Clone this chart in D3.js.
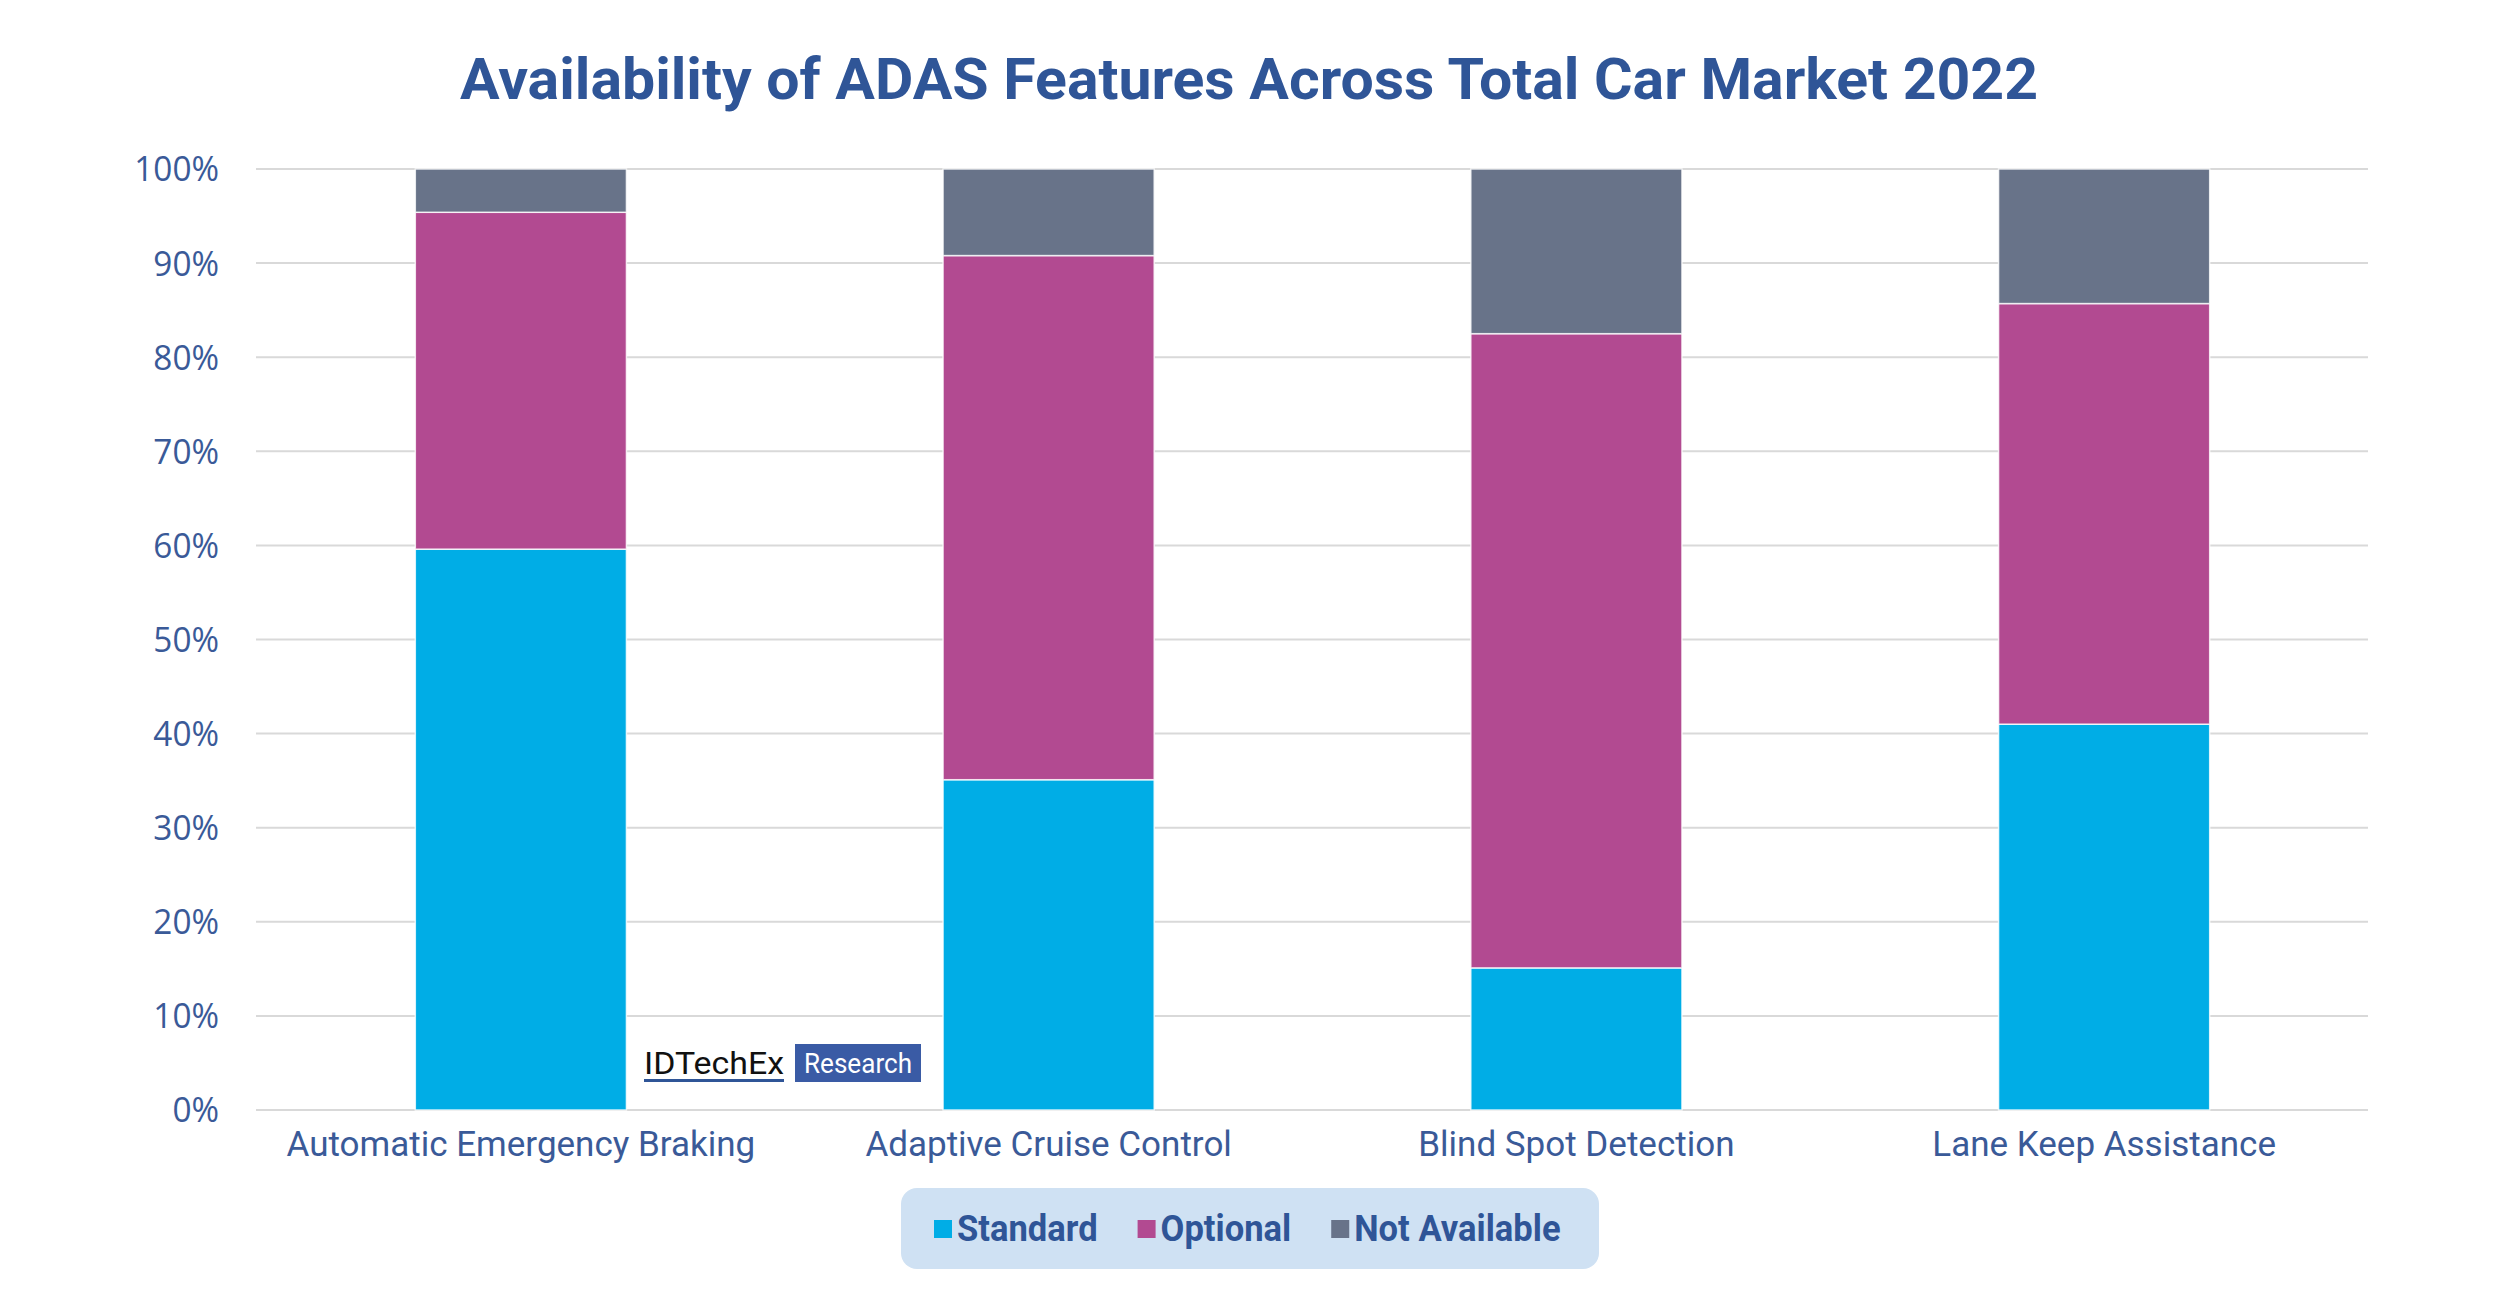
<!DOCTYPE html>
<html>
<head>
<meta charset="utf-8">
<script src="https://cdn.jsdelivr.net/npm/d3@7/dist/d3.min.js"></script>
<style>
  html, body { margin: 0; padding: 0; background: #ffffff; }
  svg { display: block; }
</style>
</head>
<body>
<svg id="chart" width="2500" height="1309"></svg>
<script>
// ---- Data ----
const categories = ["Automatic Emergency Braking", "Adaptive Cruise Control", "Blind Spot Detection", "Lane Keep Assistance"];
const seriesNames = ["Standard", "Optional", "Not Available"];
const standard     = [59.6, 35.1, 15.1, 41.0];
const optional     = [35.8, 55.7, 67.4, 44.7];
const notAvailable = [4.6, 9.2, 17.5, 14.3];
const yTicks = [0, 10, 20, 30, 40, 50, 60, 70, 80, 90, 100];
const titleText = "Availability of ADAS Features Across Total Car Market 2022";

// ---- Styles ----
const colors = { "Standard": "#00ADE6", "Optional": "#B24A91", "Not Available": "#687389" };
const textBlue = "#2F5597";
const tickBlue = "#3A5A98";

const svg = d3.select("#chart");
const W = 2500, H = 1309;
svg.append("rect").attr("width", W).attr("height", H).attr("fill", "#fff");

const plot = { left: 257, right: 2368, top: 169, bottom: 1110 };

const x = d3.scaleBand().domain(categories).range([plot.left, plot.right]).paddingInner(0.6).paddingOuter(0.3);
const y = d3.scaleLinear().domain([0, 100]).range([plot.bottom, plot.top]);

function condense(sel, factor) {
  sel.each(function() {
    const n = this.getComputedTextLength();
    d3.select(this).attr("textLength", n * factor).attr("lengthAdjust", "spacingAndGlyphs");
  });
}

// Title
svg.append("text")
  .attr("x", 1249).attr("y", 99)
  .attr("text-anchor", "middle")
  .attr("font-family", "Roboto, sans-serif")
  .attr("font-weight", 700)
  .attr("font-size", 57)
  .attr("fill", textBlue)
  .attr("textLength", 1578).attr("lengthAdjust", "spacingAndGlyphs")
  .text(titleText);

// Gridlines
svg.append("g")
  .selectAll("line").data(yTicks).join("line")
  .attr("x1", plot.left - 1).attr("x2", plot.right)
  .attr("y1", d => y(d)).attr("y2", d => y(d))
  .attr("stroke", "#d9d9d9").attr("stroke-width", 2);

// Y axis
const yAxis = d3.axisLeft(y).tickValues(yTicks).tickFormat(d => d + "%").tickSize(0).tickPadding(0);
const yg = svg.append("g").attr("transform", `translate(219,0)`).call(yAxis);
yg.select(".domain").remove();
yg.selectAll("text")
  .attr("font-family", "'Open Sans', 'Noto Sans', sans-serif")
  .attr("font-size", 34)
  .attr("fill", tickBlue)
  .attr("dy", "0.35em");
condense(yg.selectAll("text"), 0.98);

// Stack
const rows = categories.map((c, i) => ({ cat: c, "Standard": standard[i], "Optional": optional[i], "Not Available": notAvailable[i] }));
const stack = d3.stack().keys(seriesNames)(rows);

svg.append("g").selectAll("g").data(stack).join("g")
  .attr("fill", d => colors[d.key])
  .selectAll("rect").data(d => d).join("rect")
  .attr("x", d => x(d.data.cat))
  .attr("width", x.bandwidth())
  .attr("y", d => y(d[1]))
  .attr("height", d => y(d[0]) - y(d[1]))
  .attr("stroke", "#ffffff").attr("stroke-opacity", 0.8).attr("stroke-width", 1.5);

// X axis labels
const xAxis = d3.axisBottom(x).tickSize(0).tickPadding(0);
const xg = svg.append("g").attr("transform", `translate(0,${plot.bottom})`).call(xAxis);
xg.select(".domain").remove();
xg.selectAll("text")
  .attr("font-family", "Roboto, sans-serif")
  .attr("font-size", 35)
  .attr("fill", tickBlue)
  .attr("dy", null)
  .attr("y", 46);

// Watermark logo
const logo = svg.append("g");
logo.append("text")
  .attr("x", 644).attr("y", 1074)
  .attr("font-family", "Roboto, sans-serif")
  .attr("font-size", 32)
  .attr("fill", "#111")
  .attr("textLength", 140).attr("lengthAdjust", "spacingAndGlyphs")
  .text("IDTechEx");
logo.append("rect").attr("x", 644).attr("y", 1079).attr("width", 140).attr("height", 3).attr("fill", textBlue);
logo.append("rect").attr("x", 795).attr("y", 1044).attr("width", 126).attr("height", 38).attr("fill", "#3A5BA5");
logo.append("text")
  .attr("x", 858).attr("y", 1073)
  .attr("text-anchor", "middle")
  .attr("font-family", "Roboto, sans-serif")
  .attr("font-size", 28)
  .attr("fill", "#ffffff")
  .attr("textLength", 108).attr("lengthAdjust", "spacingAndGlyphs")
  .text("Research");

// Legend
const legend = svg.append("g");
legend.append("rect")
  .attr("x", 901).attr("y", 1188).attr("width", 698).attr("height", 81)
  .attr("rx", 16).attr("fill", "#CFE1F3");
let cx = 934;
seriesNames.forEach(name => {
  legend.append("rect").attr("x", cx).attr("y", 1220).attr("width", 18).attr("height", 18).attr("fill", colors[name]);
  const t = legend.append("text")
    .attr("x", cx + 23).attr("y", 1241)
    .attr("font-family", "Roboto, sans-serif")
    .attr("font-weight", 700)
    .attr("font-size", 36)
    .attr("fill", textBlue)
    .text(name);
  condense(t, 0.96);
  const w = +t.attr("textLength");
  cx += 23 + w + 40;
});
</script>
</body>
</html>
